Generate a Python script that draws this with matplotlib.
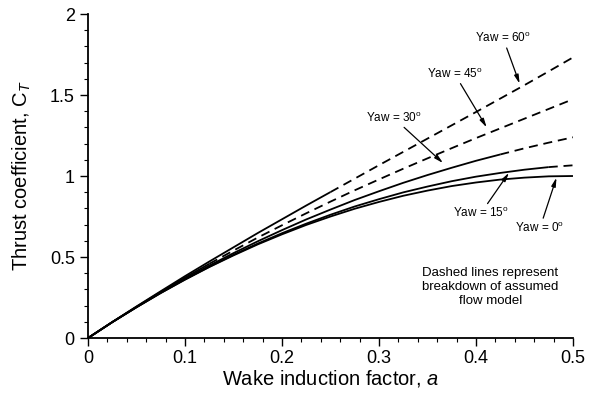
import matplotlib
matplotlib.use("Agg")
import matplotlib.pyplot as plt
from matplotlib.ticker import MultipleLocator

plt.rcParams['font.family'] = ['Liberation Sans', 'DejaVu Sans']
plt.rcParams['mathtext.fontset'] = 'custom'
plt.rcParams['mathtext.rm'] = 'Liberation Sans'
plt.rcParams['mathtext.it'] = 'Liberation Sans:italic'

# Wake induction factor grid
a_vals = [0.0, 0.025, 0.05, 0.075, 0.1, 0.125, 0.15, 0.175, 0.2, 0.225, 0.25,
          0.275, 0.3, 0.325, 0.35, 0.375, 0.4, 0.425, 0.45, 0.475, 0.5]

ct_yaw0 = [0.0, 0.098, 0.190, 0.278, 0.360, 0.438, 0.510, 0.578, 0.640, 0.698, 0.750,
           0.798, 0.840, 0.878, 0.910, 0.938, 0.960, 0.978, 0.990, 0.998, 1.000]
ct_yaw15 = [0.0, 0.098, 0.190, 0.278, 0.362, 0.440, 0.514, 0.583, 0.647, 0.706, 0.761,
            0.812, 0.857, 0.899, 0.935, 0.968, 0.996, 1.019, 1.039, 1.055, 1.066]
ct_yaw30 = [0.0, 0.098, 0.191, 0.281, 0.366, 0.447, 0.524, 0.597, 0.666, 0.732, 0.793,
            0.852, 0.906, 0.958, 1.006, 1.051, 1.094, 1.133, 1.171, 1.206, 1.239]
ct_yaw45 = [0.0, 0.098, 0.193, 0.285, 0.373, 0.458, 0.540, 0.620, 0.696, 0.770, 0.842,
            0.912, 0.979, 1.045, 1.109, 1.172, 1.234, 1.294, 1.354, 1.414, 1.474]
ct_yaw60 = [0.0, 0.099, 0.195, 0.289, 0.382, 0.472, 0.560, 0.648, 0.733, 0.818, 0.901,
            0.984, 1.067, 1.149, 1.231, 1.313, 1.395, 1.478, 1.561, 1.646, 1.732]

# a value where each curve turns dashed (breakdown of flow model)
series = [
    (ct_yaw0, None),
    (ct_yaw15, 0.475),
    (ct_yaw30, 0.425),
    (ct_yaw45, 0.125),
    (ct_yaw60, 0.25),
]

fig = plt.figure(figsize=(5.91, 3.97), dpi=100)
ax = fig.add_axes([0.149, 0.1486, 0.8205, 0.8161])

dash = (0, (5, 3.2))
for ct, brk in series:
    if brk is None:
        ax.plot(a_vals, ct, color='black', lw=1.3, solid_capstyle='butt')
    else:
        xs = [x for x in a_vals if x <= brk + 1e-9]
        ys = ct[:len(xs)]
        xd = [x for x in a_vals if x >= brk - 1e-9]
        yd = ct[len(a_vals) - len(xd):]
        ax.plot(xs, ys, color='black', lw=1.3, solid_capstyle='butt')
        ax.plot(xd, yd, color='black', lw=1.3, linestyle=dash)

ax.set_xlim(0, 0.5)
ax.set_ylim(0, 2)
ax.xaxis.set_minor_locator(MultipleLocator(0.02))
ax.yaxis.set_minor_locator(MultipleLocator(0.1))
ax.set_xticks([0, 0.1, 0.2, 0.3, 0.4, 0.5])
ax.set_xticklabels(['0', '0.1', '0.2', '0.3', '0.4', '0.5'])
ax.set_yticks([0, 0.5, 1, 1.5, 2])
ax.set_yticklabels(['0', '0.5', '1', '1.5', '2'])

for s in ['top', 'right']:
    ax.spines[s].set_visible(False)
for s in ['left', 'bottom']:
    ax.spines[s].set_linewidth(1.3)
ax.tick_params(which='major', direction='out', length=5.5, width=1.0, labelsize=13)
ax.tick_params(axis='y', which='major', pad=4)
ax.tick_params(axis='x', which='major', pad=3)
ax.tick_params(which='minor', direction='out', length=3, width=0.8)

ax.set_xlabel('Wake induction factor, $\\mathit{a}$', fontsize=14.5, labelpad=1)
ax.set_ylabel('Thrust coefficient, C$_{\\mathit{T}}$', fontsize=14.5, labelpad=12)

akw = dict(arrowstyle='-|>,head_length=0.6,head_width=0.15', color='black', lw=0.9,
           shrinkA=0, shrinkB=0)
fs = 8.5
ax.annotate('Yaw = 60$^\\mathregular{o}$', xy=(0.445, 1.57), xytext=(0.428, 1.85),
            fontsize=fs, ha='center', va='center', arrowprops=akw)
ax.annotate('Yaw = 45$^\\mathregular{o}$', xy=(0.411, 1.30), xytext=(0.378, 1.63),
            fontsize=fs, ha='center', va='center', arrowprops=akw)
ax.annotate('Yaw = 30$^\\mathregular{o}$', xy=(0.366, 1.08), xytext=(0.315, 1.36),
            fontsize=fs, ha='center', va='center', arrowprops=akw)
ax.annotate('Yaw = 15$^\\mathregular{o}$', xy=(0.434, 1.02), xytext=(0.405, 0.77),
            fontsize=fs, ha='center', va='center', arrowprops=akw)
ax.annotate('Yaw = 0$^\\mathregular{o}$', xy=(0.483, 0.99), xytext=(0.466, 0.68),
            fontsize=fs, ha='center', va='center', arrowprops=akw)

ax.text(0.415, 0.315, 'Dashed lines represent\nbreakdown of assumed\nflow model',
        fontsize=9.5, ha='center', va='center', linespacing=1.2)

fig.savefig('out.png', dpi=100)
